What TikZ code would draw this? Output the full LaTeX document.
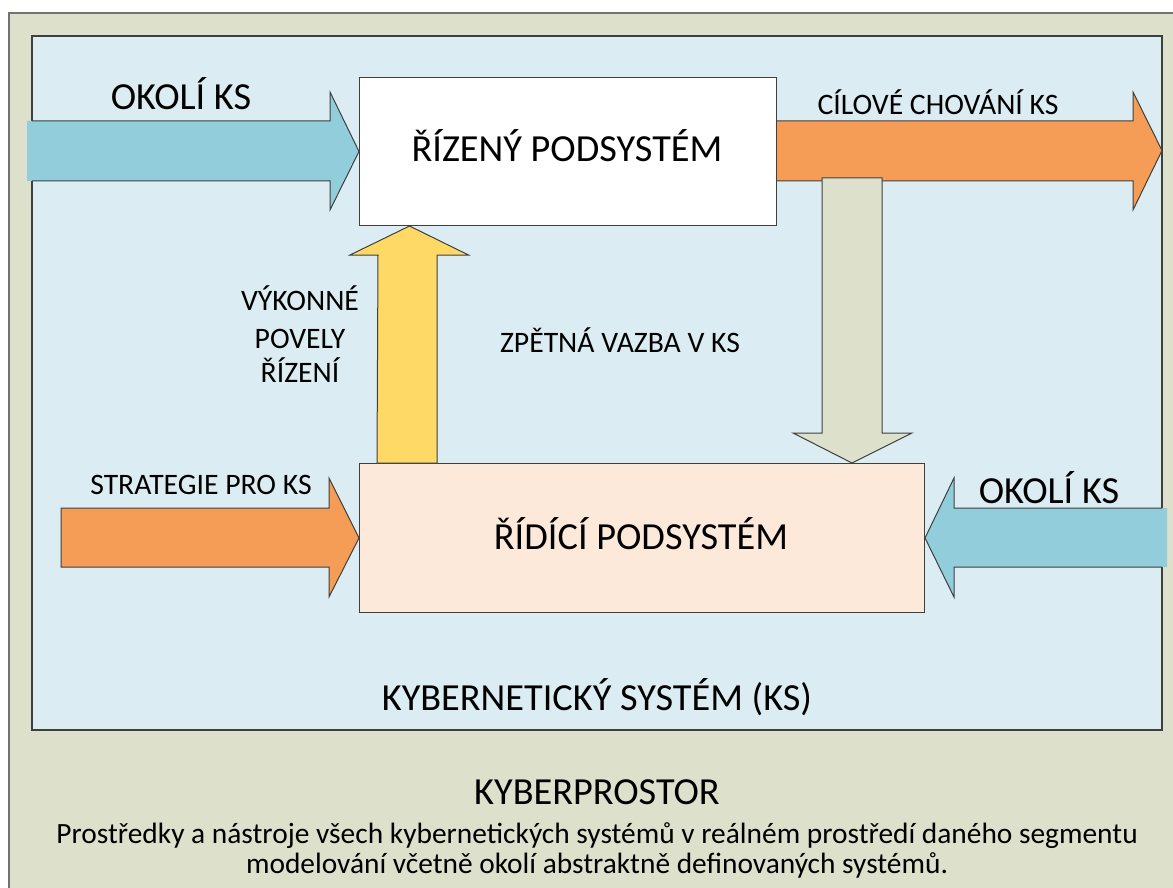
\documentclass[tikz,border=0pt]{standalone}
\usepackage{fontspec}
\setmainfont{Carlito}
\definecolor{spacebg}{HTML}{DDE0CB}
\definecolor{ksbg}{HTML}{DBEDF3}
\definecolor{cyanarr}{HTML}{92CDDC}
\definecolor{orangearr}{HTML}{F59D56}
\definecolor{yellowarr}{HTML}{FFD966}
\definecolor{grayarr}{HTML}{DDE0CB}
\definecolor{ctrlbg}{HTML}{FDE9DA}
\definecolor{edge}{HTML}{3F3F3F}
\tikzset{
  blockarr/.style={draw=edge,line width=1pt,line join=miter},
  bigtxt/.style={font=\fontsize{38.3}{42}\selectfont,inner sep=0pt,anchor=base},
  midtxt/.style={font=\fontsize{29.7}{34}\selectfont,inner sep=0pt,anchor=base},
  smalltxt/.style={font=\fontsize{29.4}{32}\selectfont,inner sep=0pt,anchor=base},
  boxstyle/.style={draw=edge,line width=1pt}
}
\begin{document}
\begin{tikzpicture}[x=1pt,y=-1pt]
\useasboundingbox (0,0) rectangle (1173,888);
\begin{scope}
\clip (0,0) rectangle (1173,888);
% outer cyberspace frame
\draw[fill=spacebg,draw=gray!90!black,line width=2pt] (9,13) rectangle (1185,900);
% inner cybernetic system
\draw[fill=ksbg,draw=edge,line width=1.2pt] (32,36) rectangle (1162,730);
\end{scope}
% boxes
\node[boxstyle,fill=white,minimum width=417pt,minimum height=148pt,anchor=north west,inner sep=0pt] (rizeny) at (359,77) {};
\node[boxstyle,fill=ctrlbg,minimum width=565pt,minimum height=149pt,anchor=north west,inner sep=0pt] (ridici) at (359,463) {};
% left cyan input arrow
\fill[cyanarr] (27,121) -- (330,121) -- (330,92) -- (rizeny.west) -- (330,210) -- (330,181) -- (27,181) -- cycle;
\draw[blockarr] (32,121) -- (330,121) -- (330,92) -- (rizeny.west) -- (330,210) -- (330,181) -- (32,181);
% orange output arrow
\coordinate (outtip) at (1162,150.5);
\draw[blockarr,fill=orangearr] (rizeny.east |- 0,121) -- (1133,121) -- (1133,92) -- (outtip) -- (1133,210) -- (1133,181) -- (rizeny.east |- 0,181);
% feedback arrow (gray, down)
\draw[blockarr,fill=grayarr] (822,178) -- (882,178) -- (882,433) -- (912,433) -- (ridici.north -| 852,0) -- (793,433) -- (822,433) -- cycle;
% executive commands arrow (yellow, up)
\draw[blockarr,fill=yellowarr] (377,463) -- (378,255) -- (350,255) -- (rizeny.south -| 409.5,0) -- (468.5,255) -- (437,255) -- (437,463) -- cycle;
% strategy arrow
\draw[blockarr,fill=orangearr] (61,508) -- (329,508) -- (329,478) -- (ridici.west) -- (329,597) -- (329,567) -- (61,567) -- cycle;
% right cyan input arrow
\fill[cyanarr] (1167,508) -- (954,508) -- (954,478) -- (ridici.east) -- (954,597) -- (954,567) -- (1167,567) -- cycle;
\draw[blockarr] (1162,508) -- (954,508) -- (954,478) -- (ridici.east) -- (954,597) -- (954,567) -- (1162,567);
% texts
\node[bigtxt] (t1) at (181,110) {OKOLÍ KS};
\node[midtxt] (t2) at (938,115) {CÍLOVÉ CHOVÁNÍ KS};
\node[bigtxt] (t3) at (567,161) {ŘÍZENÝ PODSYSTÉM};
\node[midtxt] (t4a) at (300,310) {VÝKONNÉ};
\node[midtxt] (t4b) at (300,348) {POVELY};
\node[midtxt] (t4c) at (300,382) {ŘÍZENÍ};
\node[midtxt] (t5) at (620,352) {ZPĚTNÁ VAZBA V KS};
\node[midtxt] (t6) at (201,494) {STRATEGIE PRO KS};
\node[bigtxt] (t7) at (1049,503) {OKOLÍ KS};
\node[bigtxt] (t8) at (641,549) {ŘÍDÍCÍ PODSYSTÉM};
\node[bigtxt] (t9) at (597,710) {KYBERNETICKÝ SYSTÉM (KS)};
\node[bigtxt] (t10) at (597,804) {KYBERPROSTOR};
\node[smalltxt] (t11) at (597,843) {Prostředky a nástroje všech kybernetických systémů v reálném prostředí daného segmentu};
\node[smalltxt] (t12) at (597,873) {modelování včetně okolí abstraktně definovaných systémů.};
\end{tikzpicture}
\end{document}
